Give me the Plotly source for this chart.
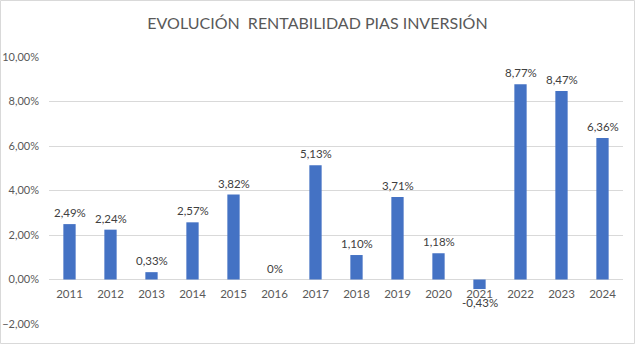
import plotly.graph_objects as go

years = ["2011", "2012", "2013", "2014", "2015", "2016", "2017", "2018", "2019", "2020", "2021", "2022", "2023", "2024"]
values = [2.49, 2.24, 0.33, 2.57, 3.82, 0.0, 5.13, 1.10, 3.71, 1.18, -0.43, 8.77, 8.47, 6.36]
labels = ["2,49%", "2,24%", "0,33%", "2,57%", "3,82%", "0%", "5,13%", "1,10%", "3,71%", "1,18%", "-0,43%", "8,77%", "8,47%", "6,36%"]
title = "EVOLUCIÓN\u00a0\u00a0RENTABILIDAD PIAS INVERSIÓN"

y_min, y_max = -0.02, 0.10
W, H = 635, 344
ml, mr, mt, mb = 49, 12, 57, 20
FONT = "Lato, 'Open Sans', sans-serif"

fig = go.Figure()
fig.add_trace(go.Bar(
    x=years, y=[v / 100 for v in values],
    marker=dict(color="#4472C4", line=dict(width=0)),
    width=0.3, hoverinfo="skip",
))

annotations = []
for i, (v, lab) in enumerate(zip(values, labels)):
    neg = v < 0
    annotations.append(dict(
        x=i, y=v / 100, xref="x", yref="y", text=lab, showarrow=False,
        yanchor="top" if neg else "bottom", yshift=-5 if neg else 3,
        font=dict(size=11.5, color="#404040", family=FONT),
    ))

pw = W - ml - mr
ph = H - mt - mb
fig.update_layout(
    width=W, height=H,
    margin=dict(l=ml, r=mr, t=mt, b=mb, autoexpand=False),
    paper_bgcolor="white", plot_bgcolor="white",
    separators=",.",
    showlegend=False,
    title=dict(text=title, x=0.5, xanchor="center", y=1 - 23 / H, yanchor="middle",
               font=dict(size=16, color="#595959", family=FONT)),
    xaxis=dict(type="category", anchor="free", position=(0 - y_min) / (y_max - y_min),
               range=[-0.5, len(years) - 0.5],
               automargin=False, showline=False, showgrid=False, ticks="", ticklabelstandoff=6,
               tickfont=dict(size=11.5, color="#595959", family=FONT)),
    yaxis=dict(range=[y_min, y_max], dtick=0.02, tickformat=".2%", automargin=False,
               showgrid=True, gridcolor="#d9d9d9", gridwidth=1, zeroline=False,
               ticks="", ticklabelstandoff=9,
               tickfont=dict(size=11, color="#595959", family=FONT)),
    annotations=annotations,
    shapes=[dict(type="rect", xref="paper", yref="paper",
                 x0=-(ml - 0.5) / pw, x1=(W - ml - 0.5) / pw,
                 y0=-(mb - 0.5) / ph, y1=(H - mb - 0.5) / ph,
                 line=dict(color="#d9d9d9", width=1), layer="below")],
)
fig.write_html("out.html")
